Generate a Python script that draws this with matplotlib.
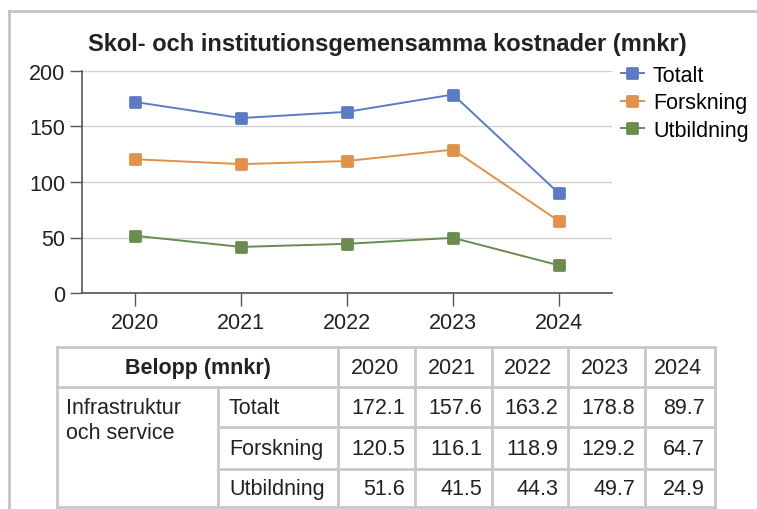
import numpy as np
import matplotlib.pyplot as plt
from matplotlib.lines import Line2D
from matplotlib.markers import MarkerStyle

plt.rcParams['font.family'] = ['Liberation Sans', 'DejaVu Sans']

### data
years = ['2020', '2021', '2022', '2023', '2024']
series_names = ['Totalt', 'Forskning', 'Utbildning']
totalt = [172.1, 157.6, 163.2, 178.8, 89.7]
forskning = [120.5, 116.1, 118.9, 129.2, 64.7]
utbildning = [51.6, 41.5, 44.3, 49.7, 24.9]
values = [totalt, forskning, utbildning]
colors = ['#5b7cc4', '#e0914a', '#6a8c4e']
title = 'Skol- och institutionsgemensamma kostnader (mnkr)'
table_head = 'Belopp (mnkr)'
group_label = 'Infrastruktur\noch service'

W, H = 757, 510
fig = plt.figure(figsize=(W / 100, H / 100), dpi=100)

def px(x, y):
    return x / W, 1 - y / H

# outer frame
frame_c = '#c4c4c8'
fig.lines.append(Line2D([px(9, 0)[0], px(9, 0)[0]], [px(0, 12)[1], 0], transform=fig.transFigure, color=frame_c, lw=2))
fig.lines.append(Line2D([px(9, 0)[0], 1], [px(0, 12)[1], px(0, 12)[1]], transform=fig.transFigure, color=frame_c, lw=2))

# chart
ax = fig.add_axes([82 / W, (H - 294) / H, 530 / W, 222 / H])
x = np.arange(len(years))
mk = MarkerStyle('s', joinstyle='round')
for vals, name, c in zip(values, series_names, colors):
    ax.plot(x, vals, color=c, lw=1.4, marker=mk, ms=6.5, mew=2, mec=c, mfc=c, label=name)

ax.set_xlim(-0.5, len(years) - 0.5)
ax.set_ylim(0, 200)
ax.set_yticks([0, 50, 100, 150, 200])
ax.set_xticks(x)
ax.set_xticklabels(years)
ax.grid(axis='y', color='#d0d0d0', lw=1)
ax.set_axisbelow(True)
for s in ['top', 'right']:
    ax.spines[s].set_visible(False)
for s in ['left', 'bottom']:
    ax.spines[s].set_color('#555555')
    ax.spines[s].set_linewidth(1.2)
ax.tick_params(axis='both', length=9, width=1, color='#555555', labelsize=15.5, labelcolor='#222222')
ax.tick_params(axis='y', pad=3)
ax.tick_params(axis='x', pad=5)

fig.text(*px(387, 44), title, ha='center', va='center', fontsize=17, fontweight='bold', color='#222222')

fig.legend(loc='upper left', bbox_to_anchor=px(612, 57), frameon=False, fontsize=15.5,
           handlelength=1.1, handletextpad=0.4, labelspacing=0.3, borderaxespad=0)

### table
tc = '#c8c8cc'
cols = [57, 218, 338, 415, 492, 568, 645, 715]
rows = [348, 388, 428, 470, 508]

def hline(x0, x1, y):
    fig.lines.append(Line2D([px(x0, 0)[0], px(x1, 0)[0]], [px(0, y)[1]] * 2, transform=fig.transFigure, color=tc, lw=2))

def vline(xx, y0, y1):
    fig.lines.append(Line2D([px(xx, 0)[0]] * 2, [px(0, y0)[1], px(0, y1)[1]], transform=fig.transFigure, color=tc, lw=2))

hline(cols[0], cols[-1], rows[0])
hline(cols[0], cols[-1], rows[1])
hline(cols[1], cols[-1], rows[2])
hline(cols[1], cols[-1], rows[3])
hline(cols[0], cols[-1], rows[4])
vline(cols[0], rows[0], rows[4])
vline(cols[1], rows[1], rows[4])
for c in cols[2:]:
    vline(c, rows[0], rows[4])

fs = 15.5
fig.text(*px((cols[0] + cols[2]) / 2, (rows[0] + rows[1]) / 2 + 1), table_head, ha='center', va='center',
         fontsize=fs, fontweight='bold', color='#222222')
for j, yr in enumerate(years):
    fig.text(*px((cols[j + 2] + cols[j + 3]) / 2 - 2, (rows[0] + rows[1]) / 2 + 1), yr, ha='center', va='center',
             fontsize=fs, color='#222222')
fig.text(*px(66, 398), group_label, ha='left', va='top', fontsize=fs, color='#222222', linespacing=1.25)
for i, name in enumerate(series_names):
    yc = (rows[i + 1] + rows[i + 2]) / 2 + 1
    fig.text(*px(cols[1] + 11, yc), name, ha='left', va='center', fontsize=fs, color='#222222')
    for j, v in enumerate(values[i]):
        fig.text(*px(cols[j + 3] - 10, yc), f'{v:.1f}', ha='right', va='center', fontsize=fs, color='#222222')

fig.savefig('out.png', dpi=100)
